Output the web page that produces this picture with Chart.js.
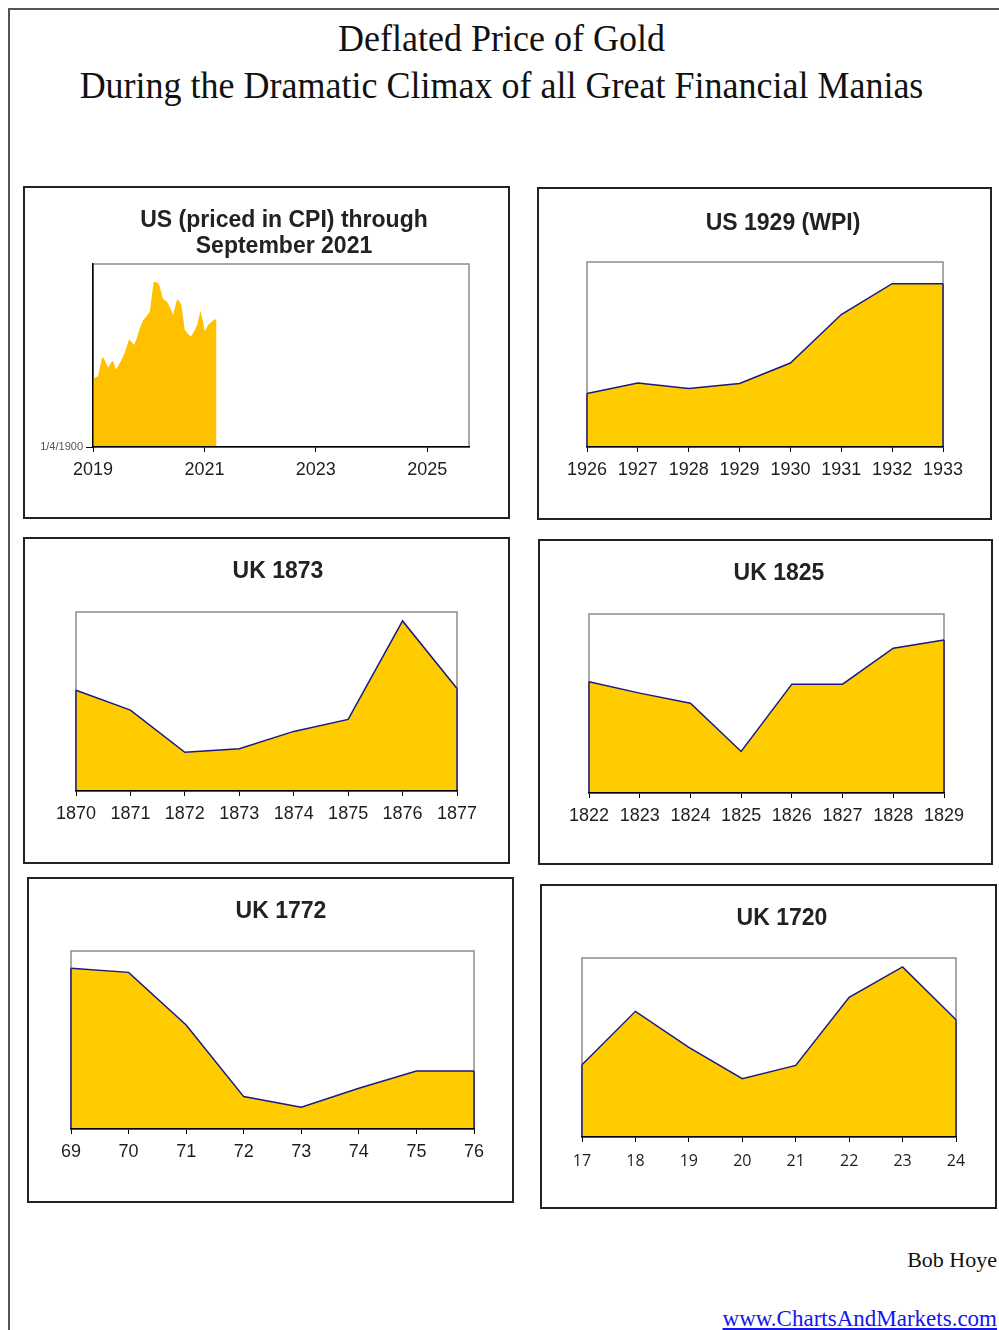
<!DOCTYPE html>
<html>
<head>
<meta charset="utf-8">
<title>Deflated Price of Gold</title>
<script src="https://cdn.jsdelivr.net/npm/chart.js@4.4.1/dist/chart.umd.min.js"></script>
<style>
  body { margin: 0; width: 999px; height: 1330px; background: #fff; position: relative; overflow: hidden;
         font-family: "Liberation Sans", Arial, sans-serif; }
  .frame { position: absolute; left: 8px; top: 8px; width: 1000px; height: 1330px;
           border-top: 2px solid #555; border-left: 2px solid #555; }
  .heading { position: absolute; left: 0; width: 1003px; text-align: center; font-family: "Liberation Serif", "Times New Roman", serif;
             font-size: 36px; line-height: 40px; color: #111; white-space: nowrap; transform: scaleY(1.06); }
  .panel { position: absolute; border: 2px solid #222; box-sizing: border-box; background: #fff; }
  .panel canvas { position: absolute; left: 0; top: 0; }
  .ptitle { position: absolute; width: 400px; text-align: center; font: bold 23px "Liberation Sans", Arial, sans-serif;
            color: #222; line-height: 26px; white-space: nowrap; }
  .sig { position: absolute; right: 2px; font-family: "Liberation Serif", "Times New Roman", serif; font-size: 22px;
         line-height: 26px; color: #111; white-space: nowrap; }
  .sig a { color: #1515ee; text-decoration: underline; font-size: 23px; }
</style>
</head>
<body>
<div class="frame"></div>
<div class="heading" style="top:18px">Deflated Price of Gold</div>
<div class="heading" style="top:65px">During the Dramatic Climax of all Great Financial Manias</div>

<div class="sig" style="top:1247px">Bob Hoye</div>
<div class="sig" style="top:1306px"><a href="#">www.ChartsAndMarkets.com</a></div>

<script>
// ---- data (values are relative heights, 0-100 of plot) ----
const cpiYears = [2019.001, 2019.090, 2019.168, 2019.210, 2019.270, 2019.312, 2019.360, 2019.408, 2019.450,
  2019.510, 2019.569, 2019.647, 2019.689, 2019.737, 2019.791, 2019.839, 2019.899, 2019.989, 2020.019,
  2020.090, 2020.168, 2020.198, 2020.258, 2020.330, 2020.390, 2020.438, 2020.509, 2020.557, 2020.587,
  2020.647, 2020.725, 2020.767, 2020.827, 2020.869, 2020.929, 2020.976, 2021.006, 2021.066, 2021.126,
  2021.186, 2021.217];
const cpiValues = [37.4, 38.7, 49.3, 47.5, 43.4, 45.6, 47.1, 42.3, 44.2,
  47.5, 51.5, 58.8, 57.5, 55.7, 59.9, 64.8, 69.3, 72.6, 73.9,
  90.3, 89.8, 87.6, 80.7, 79.4, 75.7, 72.1, 80.7, 79.4, 77.6,
  63.9, 61.1, 60.6, 63.9, 66.6, 74.5, 68.4, 63.3, 66.6, 68.4,
  69.7, 69.7];
const cpiTicks = [2019, 2021, 2023, 2025];

const us1929Years = ['1926', '1927', '1928', '1929', '1930', '1931', '1932', '1933'];
const us1929Values = [28.9, 34.6, 31.6, 34.3, 45.4, 71.6, 88.3, 88.3];

const uk1873Years = ['1870', '1871', '1872', '1873', '1874', '1875', '1876', '1877'];
const uk1873Values = [56.3, 45.2, 21.6, 23.6, 33.3, 40.0, 95.0, 57.3];

const uk1825Years = ['1822', '1823', '1824', '1825', '1826', '1827', '1828', '1829'];
const uk1825Values = [62.2, 55.8, 50.2, 23.2, 60.8, 60.8, 80.9, 85.5];

const uk1772Years = ['69', '70', '71', '72', '73', '74', '75', '76'];
const uk1772Values = [90.3, 88.0, 58.4, 18.2, 12.2, 22.9, 32.6, 32.6];

const uk1720Years = ['17', '18', '19', '20', '21', '22', '23', '24'];
const uk1720Values = [40.4, 70.2, 50.1, 32.6, 40.0, 78.0, 95.0, 65.5];

const GOLD = '#FFCC00';
const NAVY = '#1a1a80';
const X_AXIS_H = 40;

Chart.defaults.animation = false;
Chart.defaults.font.family = '"Liberation Sans", Arial, sans-serif';

// grey frame round the plot area (Excel style)
const plotFrame = {
  id: 'plotFrame',
  beforeDatasetsDraw(chart) {
    const a = chart.chartArea, ctx = chart.ctx;
    ctx.save();
    ctx.strokeStyle = '#8c8c8c';
    ctx.lineWidth = 1.5;
    ctx.strokeRect(a.left, a.top, a.right - a.left, a.bottom - a.top);
    ctx.restore();
  }
};

// close the area outline down to the axis at both ends
const areaEdges = {
  id: 'areaEdges',
  afterDatasetsDraw(chart, args, opts) {
    if (!opts.on) return;
    const pts = chart.getDatasetMeta(0).data;
    const base = chart.scales.y.getPixelForValue(0);
    const ctx = chart.ctx;
    ctx.save();
    ctx.strokeStyle = NAVY;
    ctx.lineWidth = 1.5;
    [pts[0], pts[pts.length - 1]].forEach(p => {
      ctx.beginPath();
      ctx.moveTo(p.x, p.y);
      ctx.lineTo(p.x, base);
      ctx.stroke();
    });
    ctx.restore();
  }
};

function addPanel(box, plot, title, titleCx, titleTop) {
  const div = document.createElement('div');
  div.className = 'panel';
  Object.assign(div.style, { left: box.x + 'px', top: box.y + 'px', width: box.w + 'px', height: box.h + 'px' });
  const cv = document.createElement('canvas');
  cv.width = box.w - 4;
  cv.height = box.h - 4;
  div.appendChild(cv);
  document.body.appendChild(div);

  const t = document.createElement('div');
  t.className = 'ptitle';
  t.innerHTML = title;
  t.style.left = (titleCx - 200) + 'px';
  t.style.top = titleTop + 'px';
  document.body.appendChild(t);

  const inL = box.x + 2, inT = box.y + 2, inR = box.x + box.w - 2, inB = box.y + box.h - 2;
  return {
    ctx: cv,
    padding: { top: plot.t - inT, right: inR - plot.r, bottom: inB - plot.b - X_AXIS_H, left: plot.l - inL }
  };
}

function xAxisOptions(fontFamily, fontSize, pad) {
  return {
    grid: { display: true, drawOnChartArea: false, drawTicks: true, tickLength: 5, color: '#000', lineWidth: 1, z: 1 },
    border: { display: true, color: '#000', width: 1.5, z: 1 },
    ticks: { color: '#1e1e1e', font: { family: fontFamily, size: fontSize }, padding: pad, maxRotation: 0, autoSkip: false },
    afterFit: s => { s.height = X_AXIS_H; }
  };
}

function areaChart(box, plot, title, titleCx, titleTop, labels, values, tickFont) {
  const p = addPanel(box, plot, title, titleCx, titleTop);
  const f = tickFont || { family: '"Liberation Sans", Arial, sans-serif', size: 18, pad: 7 };
  const x = xAxisOptions(f.family, f.size, f.pad);
  x.type = 'category';
  x.offset = false;
  new Chart(p.ctx, {
    type: 'line',
    data: {
      labels: labels,
      datasets: [{
        data: values,
        borderColor: NAVY,
        borderWidth: 1.5,
        backgroundColor: GOLD,
        fill: 'origin',
        pointRadius: 0,
        tension: 0
      }]
    },
    options: {
      responsive: false,
      layout: { padding: p.padding },
      plugins: { legend: { display: false }, tooltip: { enabled: false }, areaEdges: { on: true } },
      scales: {
        x: x,
        y: { type: 'linear', min: 0, max: 100, display: false }
      }
    },
    plugins: [plotFrame, areaEdges]
  });
}

// ---- panel 1: US (priced in CPI) ----
(function () {
  const Y_AXIS_W = 62;
  const box = { x: 23, y: 186, w: 487, h: 333 };
  const plot = { l: 93, t: 264, r: 469, b: 447 };
  const p = addPanel(box, plot, 'US (priced in CPI) through<br>September 2021', 284, 206);
  p.padding.left -= Y_AXIS_W;
  const x = xAxisOptions('"Liberation Sans", Arial, sans-serif', 18, 7);
  x.type = 'linear';
  x.min = 2019;
  x.max = 2025.75;
  x.afterBuildTicks = s => { s.ticks = cpiTicks.map(v => ({ value: v })); };
  x.ticks.callback = v => String(v);
  new Chart(p.ctx, {
    type: 'line',
    data: {
      datasets: [{
        data: cpiYears.map((yr, i) => ({ x: yr, y: cpiValues[i] })),
        borderColor: 'rgba(0,0,0,0)',
        borderWidth: 0,
        backgroundColor: '#FFC000',
        fill: 'origin',
        pointRadius: 0,
        tension: 0
      }]
    },
    options: {
      responsive: false,
      layout: { padding: p.padding },
      plugins: { legend: { display: false }, tooltip: { enabled: false } },
      scales: {
        x: x,
        y: {
          type: 'linear', min: 0, max: 100,
          afterBuildTicks: s => { s.ticks = [{ value: 0 }]; },
          afterFit: s => { s.width = Y_AXIS_W; },
          grid: { display: true, drawOnChartArea: false, drawTicks: true, tickLength: 7, color: '#000', z: 1 },
          border: { display: true, color: '#000', width: 1.5, z: 1 },
          ticks: { color: '#555', font: { size: 11 }, padding: 3, callback: () => '1/4/1900' }
        }
      }
    },
    plugins: [plotFrame]
  });
})();

// ---- the other five panels ----
areaChart({ x: 537, y: 187, w: 455, h: 333 }, { l: 587, t: 262, r: 943, b: 447 },
  'US 1929 (WPI)', 783, 209, us1929Years, us1929Values);

areaChart({ x: 23, y: 537, w: 487, h: 327 }, { l: 76, t: 612, r: 457, b: 791 },
  'UK 1873', 278, 557, uk1873Years, uk1873Values);

areaChart({ x: 538, y: 539, w: 455, h: 326 }, { l: 589, t: 614, r: 944, b: 793 },
  'UK 1825', 779, 559, uk1825Years, uk1825Values);

areaChart({ x: 27, y: 877, w: 487, h: 326 }, { l: 71, t: 951, r: 474, b: 1129 },
  'UK 1772', 281, 897, uk1772Years, uk1772Values);

areaChart({ x: 540, y: 884, w: 457, h: 325 }, { l: 582, t: 958, r: 956, b: 1137 },
  'UK 1720', 782, 904, uk1720Years, uk1720Values,
  { family: '"Open Sans", sans-serif', size: 16, pad: 10 });
</script>
</body>
</html>
